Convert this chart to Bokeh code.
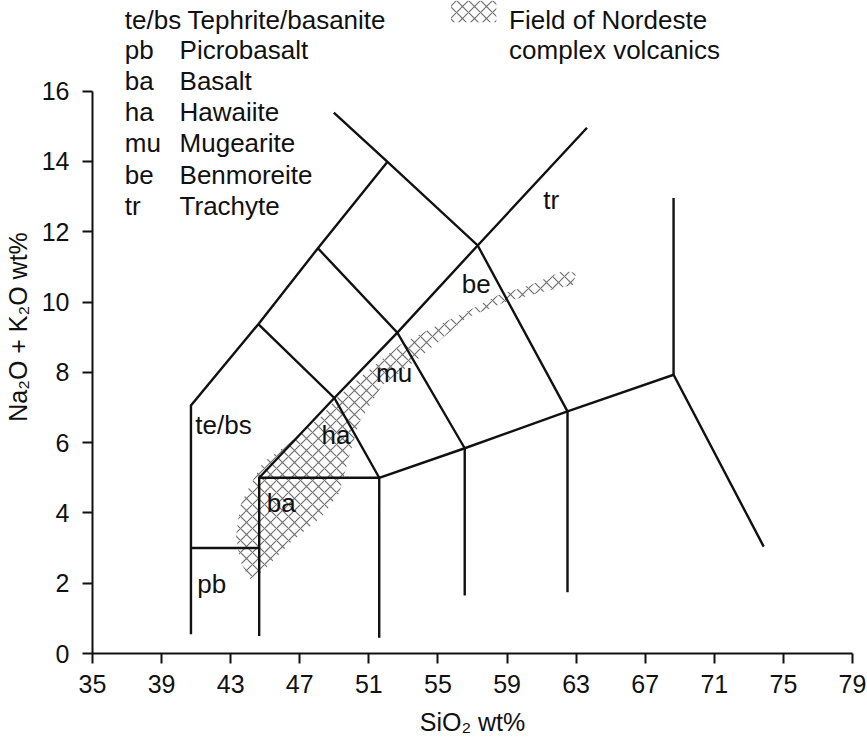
from bokeh.plotting import figure
from bokeh.models import Range1d, FixedTicker
from bokeh.core.properties import value
from bokeh.embed import file_html
from bokeh.resources import INLINE

FONT = "Liberation Sans"
INK = "#111111"
HATCH = "#707070"

# ---------------- data ----------------
sio2_ticks = [35, 39, 43, 47, 51, 55, 59, 63, 67, 71, 75, 79]
alk_ticks = [0, 2, 4, 6, 8, 10, 12, 14, 16]

# TAS classification boundaries (SiO2 wt%, Na2O+K2O wt%)
boundary_x = [
    [40.7, 40.7, 44.6, 48.05, 52.08],
    [48.97, 52.08, 57.3, 62.5],
    [44.65, 49.0, 52.65, 57.3, 63.63],
    [44.6, 49.0, 51.6],
    [48.05, 52.65, 56.55],
    [40.7, 44.65],
    [44.65, 44.65, 51.6],
    [51.6, 51.6, 56.55, 62.5, 68.64, 73.86],
    [56.55, 56.55],
    [62.5, 62.5],
    [68.64, 68.64],
]
boundary_y = [
    [0.55, 7.06, 9.37, 11.53, 13.99],
    [15.39, 13.99, 11.61, 6.89],
    [5.0, 7.27, 9.13, 11.61, 14.96],
    [9.37, 7.27, 5.0],
    [11.53, 9.13, 5.84],
    [3.0, 3.0],
    [0.5, 5.0, 5.0],
    [0.45, 5.0, 5.84, 6.89, 7.93, 3.04],
    [1.65, 5.84],
    [1.74, 6.89],
    [7.93, 12.96],
]

# Field of Nordeste complex volcanics (outline)
field_x = [44.11, 43.54, 43.31, 43.54, 44.11, 44.86, 46.41, 48.31, 49.12, 50.62,
           52.75, 54.65, 56.6, 58.51, 60.41, 62.25, 63.0, 62.83, 60.8, 58.9,
           56.6, 53.9, 51.77, 50.44, 49.87, 49.29, 48.31, 46.41, 44.86]
field_y = [2.11, 2.63, 3.34, 4.2, 4.77, 5.43, 6.0, 6.77, 7.26, 7.91,
           8.77, 9.26, 9.71, 10.2, 10.49, 10.89, 10.83, 10.49, 10.26, 10.0,
           9.54, 8.4, 7.63, 6.57, 5.63, 4.57, 3.91, 3.14, 2.34]

# in-field rock labels
rock_labels = ["te/bs", "pb", "ba", "ha", "mu", "be", "tr"]
rock_label_x = [40.95, 41.06, 45.09, 48.26, 51.42, 56.38, 61.1]
rock_label_y = [6.5, 1.98, 4.28, 6.22, 7.98, 10.5, 12.9]

# key
key_abbr = ["te/bs", "pb", "ba", "ha", "mu", "be", "tr"]
key_name = ["Tephrite/basanite", "Picrobasalt", "Basalt", "Hawaiite",
            "Mugearite", "Benmoreite", "Trachyte"]
field_key = ["Field of Nordeste", "complex volcanics"]

# ---------------- layout ----------------
key_abbr_x = 36.87
key_name_x = [40.5, 40.04, 40.04, 40.04, 40.04, 40.04, 40.04]
key_row_y = [18.03, 17.16, 16.28, 15.40, 14.52, 13.62, 12.74]
swatch = dict(left=55.76, right=58.38, bottom=17.96, top=18.58)
field_key_x = 59.12

p = figure(width=866, height=738,
           x_range=Range1d(35, 79), y_range=Range1d(0, 18.58),
           output_backend="svg", toolbar_location=None,
           min_border_left=86, min_border_right=14,
           min_border_top=0, min_border_bottom=81)
p.outline_line_color = None
p.grid.visible = False
p.background_fill_color = "white"
p.border_fill_color = "white"

# axes
for ax in (p.xaxis[0], p.yaxis[0]):
    ax.axis_line_color = INK
    ax.axis_line_width = 2
    ax.major_tick_line_color = INK
    ax.major_tick_line_width = 2
    ax.major_tick_out = 10
    ax.major_tick_in = 0
    ax.minor_tick_line_color = None
    ax.major_label_text_font = FONT
    ax.major_label_text_font_size = "25px"
    ax.major_label_text_color = INK
    ax.axis_label_text_font = FONT
    ax.axis_label_text_font_size = "25px"
    ax.axis_label_text_font_style = "normal"
    ax.axis_label_text_color = INK

p.xaxis.ticker = FixedTicker(ticks=sio2_ticks)
p.yaxis.ticker = FixedTicker(ticks=alk_ticks)
p.xaxis.bounds = (35, 79)
p.yaxis.bounds = (0, 16)
p.xaxis.axis_label = "SiO\u2082 wt%"
p.yaxis.axis_label = "Na\u2082O + K\u2082O wt%"
p.xaxis.major_label_standoff = 11
p.xaxis.axis_label_standoff = 12
p.yaxis.major_label_standoff = 13
p.yaxis.axis_label_standoff = 7

# hatched field
p.patch(field_x, field_y, fill_alpha=0, line_alpha=0,
        hatch_pattern="diagonal_cross", hatch_color=HATCH,
        hatch_scale=12, hatch_weight=1.2)

# boundaries
p.multi_line(xs=boundary_x, ys=boundary_y, line_color=INK, line_width=2.4,
             line_join="miter")

# rock labels
p.text(x=rock_label_x, y=rock_label_y, text=rock_labels,
       text_font=value(FONT), text_font_size="26px", text_color=INK,
       text_align="left", text_baseline="alphabetic")

# key (left column)
p.text(x=[key_abbr_x] * len(key_abbr), y=key_row_y, text=key_abbr,
       text_font=value(FONT), text_font_size="26px", text_color=INK,
       text_align="left", text_baseline="alphabetic")
p.text(x=key_name_x, y=key_row_y, text=key_name,
       text_font=value(FONT), text_font_size="26px", text_color=INK,
       text_align="left", text_baseline="alphabetic")

# key (field)
p.quad(left=[swatch["left"]], right=[swatch["right"]],
       bottom=[swatch["bottom"]], top=[swatch["top"]],
       fill_alpha=0, line_alpha=0,
       hatch_pattern="diagonal_cross", hatch_color=HATCH,
       hatch_scale=12, hatch_weight=1.2)
p.text(x=[field_key_x] * 2, y=key_row_y[:2], text=field_key,
       text_font=value(FONT), text_font_size="26px", text_color=INK,
       text_align="left", text_baseline="alphabetic")

open("out.html", "w").write(file_html(p, INLINE))
